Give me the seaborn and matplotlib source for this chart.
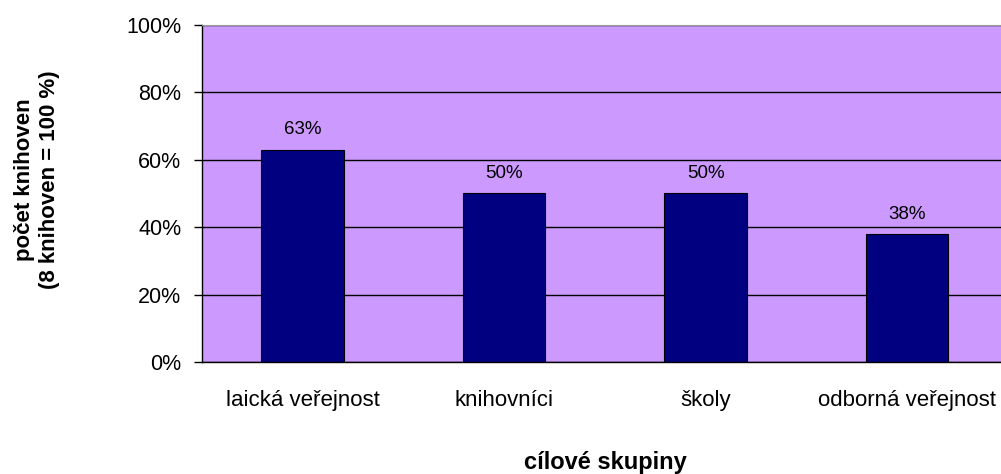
import seaborn as sns
import matplotlib.pyplot as plt
import pandas as pd

groups = ["laická veřejnost", "knihovníci", "školy", "odborná veřejnost"]
shares = [63, 50, 50, 38]
y_ticks = [0, 20, 40, 60, 80, 100]

df = pd.DataFrame({"skupina": groups, "podil": shares})

sns.set_style("white")
plt.rcParams["font.family"] = ["Liberation Sans", "DejaVu Sans"]
plt.rcParams.update({"text.color": "black", "axes.labelcolor": "black",
                     "xtick.color": "black", "ytick.color": "black"})

fig = plt.figure(figsize=(10.01, 4.74), dpi=100)
ax = fig.add_axes([0.2018, 0.2363, 0.805, 0.711])
ax.set_facecolor("#CC99FF")

sns.barplot(data=df, x="skupina", y="podil", color="#000080", width=0.41,
            edgecolor="black", linewidth=0.8, saturation=1, ax=ax)

# value labels above the bars
for i, v in enumerate(shares):
    ax.annotate(f"{v}%", (i, v), xytext=(0, 11), textcoords="offset points",
                ha="center", va="baseline", fontsize=13.5)

ax.set_ylim(0, 100)
ax.set_xlim(-0.5, 3.5)
ax.set_yticks(y_ticks)
ax.set_yticklabels([f"{t}%" for t in y_ticks], fontsize=15.5)
ax.yaxis.grid(True, color="black", linewidth=1)
ax.set_axisbelow(True)

ax.set_xticks(range(len(groups)))
ax.set_xticklabels(groups, fontsize=16)
ax.set_xticks([-0.5, 0.5, 1.5, 2.5, 3.5], minor=True)
ax.tick_params(axis="x", which="major", length=0, pad=20)
ax.tick_params(axis="x", which="minor", length=6, width=1, direction="out")
ax.tick_params(axis="y", length=6, width=1, direction="out", left=True, pad=9)

for s in ["left", "bottom"]:
    ax.spines[s].set_color("black")
    ax.spines[s].set_linewidth(1)
ax.spines["top"].set_color("#999999")
ax.spines["right"].set_visible(False)

ax.set_xlabel("cílové skupiny", fontsize=17, fontweight="bold")
ax.xaxis.set_label_coords(0.5, -0.297)
ax.xaxis.label.set_va("center")
ax.set_ylabel("počet knihoven\n(8 knihoven = 100 %)", fontsize=16,
              fontweight="bold")
ax.yaxis.set_label_coords(-0.2047, 0.54)
ax.yaxis.label.set_va("center")

fig.savefig("out.png", dpi=100)
